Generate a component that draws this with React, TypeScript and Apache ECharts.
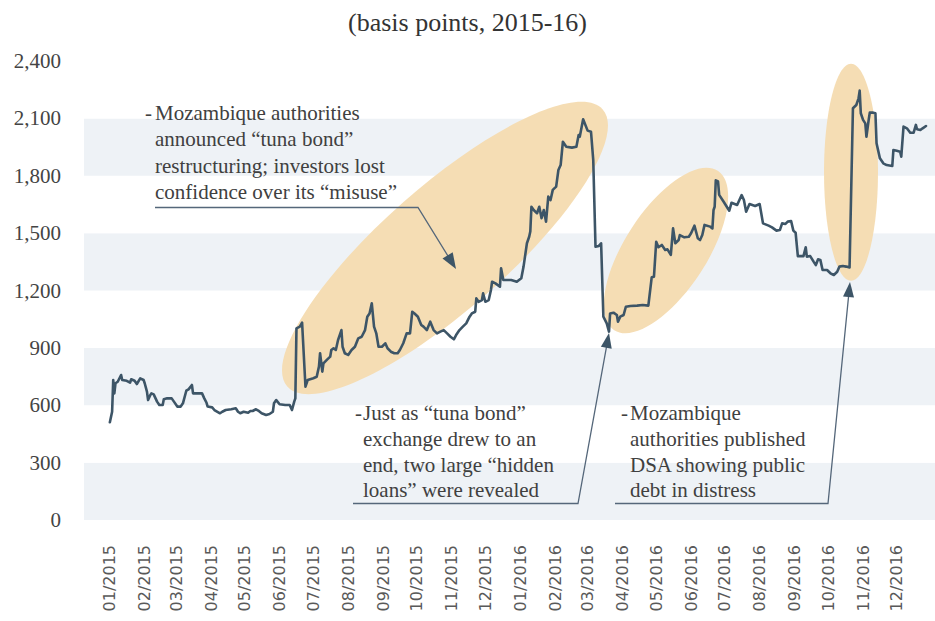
import React, { useEffect, useRef } from "react";
import * as echarts from "echarts";

// Month ticks shown on the x axis
const tickMonths = [
  "2015-01", "2015-02", "2015-03", "2015-04", "2015-05", "2015-06",
  "2015-07", "2015-08", "2015-09", "2015-10", "2015-11", "2015-12",
  "2016-01", "2016-02", "2016-03", "2016-04", "2016-05", "2016-06",
  "2016-07", "2016-08", "2016-09", "2016-10", "2016-11", "2016-12",
];

// Days since 1 Jan 2015
const dayIndex = [
  0, 2, 3, 4, 5, 7, 10, 11, 15, 18, 19, 22, 24, 27, 30, 31, 33, 34, 36, 37,
  39, 42, 44, 47, 48, 51, 55, 57, 60, 63, 65, 68, 70, 73, 74, 79, 82, 84, 86, 87,
  91, 93, 98, 100, 103, 108, 112, 114, 116, 119, 123, 125, 127, 130, 132, 135, 139, 142, 145, 146,
  148, 151, 156, 160, 162, 164, 165, 166, 169, 171, 174, 176, 181, 184, 186, 187, 189, 190, 193, 196,
  197, 199, 201, 203, 205, 206, 207, 209, 212, 215, 218, 221, 224, 227, 229, 231, 233, 235, 237, 239,
  242, 245, 247, 250, 253, 256, 258, 261, 264, 267, 269, 271, 274, 277, 279, 282, 285, 288, 291, 294,
  297, 300, 303, 306, 308, 311, 314, 317, 320, 322, 325, 326, 328, 331, 332, 334, 337, 339, 340, 343,
  347, 348, 350, 353, 357, 362, 366, 368, 371, 373, 374, 375, 377, 380, 382, 384, 386, 388, 390, 392,
  394, 397, 399, 401, 403, 406, 411, 415, 417, 418, 421, 425, 428, 430, 432, 435, 437, 439, 442, 444,
  445, 448, 451, 452, 454, 457, 459, 463, 469, 474, 479, 482, 484, 486, 488, 491, 494, 496, 499, 501,
  503, 506, 507, 511, 515, 517, 520, 523, 525, 527, 529, 534, 536, 537, 538, 539, 541, 542, 546, 551,
  553, 558, 562, 564, 566, 569, 574, 578, 581, 586, 589, 593, 596, 598, 601, 603, 606, 608, 610, 612,
  617, 619, 620, 623, 626, 628, 630, 632, 634, 638, 641, 644, 647, 649, 652, 655, 658, 661, 664, 666,
  667, 668, 670, 672, 673, 675, 676, 679, 681, 682, 685, 688, 691, 696, 697, 700, 703, 704, 706, 709,
  712, 715, 717, 718, 721, 723, 726,
];

// Spread, basis points
const spreadBp = [
  511, 566, 732, 662, 715, 723, 758, 732, 728, 718, 736, 728, 711, 741, 732, 715, 671, 627, 654, 662,
  657, 619, 601, 601, 631, 636, 636, 619, 593, 593, 610, 676, 683, 706, 662, 662, 662, 636, 613, 593,
  589, 575, 558, 566, 575, 579, 584, 566, 558, 566, 561, 570, 570, 579, 572, 558, 549, 554, 566, 610,
  627, 605, 601, 601, 575, 619, 636, 1002, 1011, 1032, 697, 732, 741, 749, 802, 872, 776, 819, 837, 854,
  889, 898, 889, 941, 976, 993, 906, 872, 863, 889, 906, 950, 958, 993, 1063, 1080, 1133, 1011, 976, 906,
  906, 924, 898, 880, 872, 872, 889, 924, 976, 976, 1089, 1080, 1063, 1020, 1011, 993, 1037, 993, 976, 985,
  993, 976, 958, 945, 967, 993, 1011, 1028, 1063, 1080, 1089, 1159, 1141, 1150, 1185, 1141, 1150, 1203, 1246, 1237,
  1220, 1316, 1255, 1255, 1255, 1246, 1264, 1325, 1447, 1481, 1508, 1638, 1621, 1604, 1638, 1578, 1621, 1560, 1691, 1673,
  1726, 1743, 1830, 1856, 1978, 1952, 1947, 1952, 2013, 2004, 2095, 2036, 2030, 1882, 1429, 1433, 1447, 1063, 1028, 985,
  1080, 1084, 1072, 1037, 1063, 1072, 1115, 1119, 1121, 1124, 1121, 1269, 1272, 1455, 1426, 1438, 1412, 1415, 1386, 1525,
  1447, 1464, 1490, 1478, 1481, 1499, 1539, 1473, 1464, 1490, 1543, 1534, 1525, 1621, 1638, 1776, 1770, 1700, 1664, 1617,
  1659, 1647, 1699, 1673, 1612, 1652, 1642, 1652, 1551, 1539, 1530, 1513, 1516, 1551, 1548, 1560, 1563, 1513, 1502, 1380,
  1380, 1426, 1377, 1380, 1351, 1333, 1363, 1360, 1307, 1307, 1290, 1281, 1298, 1325, 1328, 1325, 1321, 2153, 2170, 2205,
  2245, 2127, 2092, 2074, 2004, 2092, 2130, 2130, 2127, 1970, 1891, 1865, 1856, 1851, 1935, 1931, 1926, 1900, 2057, 2048,
  2025, 2025, 2066, 2043, 2039, 2048, 2060,
];

const yTicks = [0, 300, 600, 900, 1200, 1500, 1800, 2100, 2400];

const annotation1 = [
  "Mozambique authorities",
  "announced \u201Ctuna bond\u201D",
  "restructuring; investors lost",
  "confidence over its \u201Cmisuse\u201D",
];
const annotation2 = [
  "Just as \u201Ctuna bond\u201D",
  "exchange drew to an",
  "end, two large \u201Chidden",
  "loans\u201D were revealed",
];
const annotation3 = [
  "Mozambique",
  "authorities published",
  "DSA showing public",
  "debt in distress",
];

const SERIF = '"Liberation Serif", "Times New Roman", serif';
const TEXT_COLOR = "#404040";
const LINE_COLOR = "#3d5567";
const NOTE_LINE = "#55677a";
const HILITE = "#f5ddb4";

const DAY0 = Date.UTC(2015, 0, 1);
const tickDays = tickMonths.map((m) => {
  const [y, mo] = m.split("-").map(Number);
  return Math.round((Date.UTC(y, mo - 1, 1) - DAY0) / 86400000);
});
const tickLabel: Record<number, string> = {};
tickMonths.forEach((m, i) => {
  const [y, mo] = m.split("-");
  tickLabel[tickDays[i]] = `${mo}/${y}`;
});

function textBlock(lines: string[], x: number, firstCenter: number, lh: number, dashX: number) {
  const els: any[] = [];
  lines.forEach((t, i) => {
    els.push({
      type: "text",
      z: 5,
      x,
      y: firstCenter + i * lh,
      style: {
        text: t,
        font: `21px ${SERIF}`,
        fill: TEXT_COLOR,
        align: "left",
        verticalAlign: "middle",
        textAlign: "left",
        textVerticalAlign: "middle",
      },
    });
  });
  els.push({
    type: "text",
    z: 5,
    x: dashX,
    y: firstCenter,
    style: {
      text: "-",
      font: `21px ${SERIF}`,
      fill: TEXT_COLOR,
      align: "left",
      verticalAlign: "middle",
      textAlign: "left",
      textVerticalAlign: "middle",
    },
  });
  return els;
}

function leader(points: number[][], tip: number[], len: number, hw: number) {
  const from = points[points.length - 1];
  const dx = tip[0] - from[0];
  const dy = tip[1] - from[1];
  const d = Math.hypot(dx, dy);
  const ux = dx / d;
  const uy = dy / d;
  const bx = tip[0] - ux * len;
  const by = tip[1] - uy * len;
  return [
    {
      type: "polyline",
      z: 5,
      shape: { points: [...points, [bx + ux * 2, by + uy * 2]] },
      style: { stroke: NOTE_LINE, lineWidth: 1.3, fill: null },
    },
    {
      type: "polygon",
      z: 5,
      shape: {
        points: [
          [tip[0], tip[1]],
          [bx - uy * hw, by + ux * hw],
          [bx + uy * hw, by - ux * hw],
        ],
      },
      style: { fill: LINE_COLOR },
    },
  ];
}

export default function App() {
  const ref = useRef<HTMLDivElement>(null);

  useEffect(() => {
    if (!ref.current) return;
    const chart = echarts.init(ref.current, null, { renderer: "svg" });
    const data = dayIndex.map((d, i) => [d, spreadBp[i]]);

    chart.setOption({
      animation: false,
      backgroundColor: "#ffffff",
      title: {
        text: "(basis points, 2015-16)",
        left: "center",
        top: 4,
        textStyle: {
          fontFamily: SERIF,
          fontSize: 26,
          fontWeight: "normal",
          color: "#333333",
        },
      },
      grid: { left: 84, right: 0, top: 61, bottom: 101, containLabel: false },
      xAxis: {
        type: "value",
        min: -23,
        max: 734,
        axisLine: { show: false },
        axisTick: { show: false },
        splitLine: { show: false },
        axisLabel: {
          customValues: tickDays,
          rotate: 90,
          margin: 25,
          fontFamily: '"DejaVu Sans", sans-serif',
          fontSize: 16,
          color: "#595959",
          formatter: (v: number) => tickLabel[Math.round(v)] ?? "",
        },
      },
      yAxis: {
        type: "value",
        min: yTicks[0],
        max: yTicks[yTicks.length - 1],
        interval: 300,
        axisLine: { show: false },
        axisTick: { show: false },
        splitLine: { show: false },
        splitArea: { show: true, areaStyle: { color: ["#eef2f6", "#ffffff"] } },
        axisLabel: {
          margin: 23,
          fontFamily: SERIF,
          fontSize: 21,
          color: "#444444",
          formatter: (v: number) => v.toLocaleString("en-US"),
        },
      },
      graphic: [
        {
          type: "ellipse",
          z: 1,
          x: 445,
          y: 248,
          rotation: (41.3 * Math.PI) / 180,
          shape: { cx: 0, cy: 0, rx: 210, ry: 62 },
          style: { fill: HILITE },
        },
        {
          type: "ellipse",
          z: 1,
          x: 666,
          y: 250.5,
          rotation: (57 * Math.PI) / 180,
          shape: { cx: 0, cy: 0, rx: 95, ry: 41 },
          style: { fill: HILITE },
        },
        {
          type: "ellipse",
          z: 1,
          x: 851,
          y: 172.3,
          shape: { cx: 0, cy: 0, rx: 27, ry: 108.5 },
          style: { fill: HILITE },
        },
        ...textBlock(annotation1, 155, 112.5, 26.5, 145),
        ...textBlock(annotation2, 363, 413, 25.8, 355),
        ...textBlock(annotation3, 630, 413, 25.8, 621),
        ...leader([[155, 207.5], [418, 207.5]], [456, 269], 16, 6),
        ...leader([[353, 503.5], [578, 503.5]], [609, 333], 15, 5.5),
        ...leader([[615, 503.5], [828, 503.5]], [850, 282], 15, 5.5),
      ],
      series: [
        {
          type: "line",
          data,
          symbol: "none",
          z: 3,
          lineStyle: { color: LINE_COLOR, width: 2.6, join: "round", cap: "round" },
        },
      ],
    });

    return () => chart.dispose();
  }, []);

  return (
    <div
      ref={ref}
      style={{ position: "fixed", left: 0, top: 0, width: 935, height: 621 }}
    />
  );
}
